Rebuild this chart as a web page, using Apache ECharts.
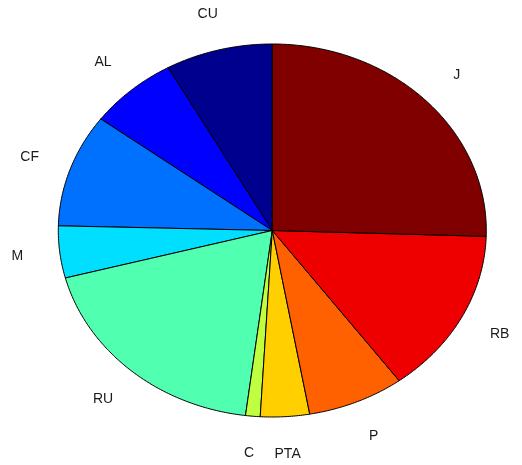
<!DOCTYPE html>
<html>
<head>
<meta charset="utf-8">
<script src="https://cdn.jsdelivr.net/npm/echarts@6/dist/echarts.min.js"></script>
<style>
html,body{margin:0;padding:0;background:#fff;}
#chart{width:522px;height:465px;}
</style>
</head>
<body>
<div id="chart"></div>
<script>
// Slices in drawing order (counter-clockwise from 12 o'clock)
var categories = ['CU', 'AL', 'CF', 'M', 'RU', 'C', 'PTA', 'P', 'RB', 'J'];
var values = [8.1, 6.7, 9.8, 4.5, 18.9, 1.1, 3.7, 7.3, 14.4, 25.5];
var colors = ['#00008F', '#0000FF', '#0070FF', '#00DFFF', '#50FFAF',
              '#BFFF40', '#FFCF00', '#FF6000', '#EF0000', '#800000'];

var total = values.reduce(function (a, b) { return a + b; }, 0);
var cum = 0;
var sliceData = values.map(function (v, i) {
  var s = cum / total;
  cum += v;
  return { value: [s, cum / total], name: categories[i] };
});

function renderItem(params, api) {
  var i = params.dataIndex;
  var a0 = 90 + api.value(0) * 360;
  var a1 = 90 + api.value(1) * 360;
  var pts = [api.coord([0, 0])];
  var n = Math.max(2, Math.ceil((a1 - a0) / 0.5));
  for (var k = 0; k <= n; k++) {
    var t = (a0 + (a1 - a0) * k / n) * Math.PI / 180;
    pts.push(api.coord([Math.cos(t), Math.sin(t)]));
  }
  var am = (a0 + a1) / 2 * Math.PI / 180;
  var lp = api.coord([1.2 * Math.cos(am), 1.2 * Math.sin(am)]);
  return {
    type: 'group',
    children: [
      {
        type: 'polygon',
        shape: { points: pts },
        style: { fill: colors[i], stroke: '#000', lineWidth: 1, lineJoin: 'round' }
      },
      {
        type: 'text',
        x: lp[0], y: lp[1],
        style: {
          text: categories[i],
          fill: '#1a1a1a',
          font: '14px "Liberation Sans", Arial, sans-serif',
          align: 'center', verticalAlign: 'middle',
          textAlign: 'center', textVerticalAlign: 'middle'
        }
      }
    ]
  };
}

var chart = echarts.init(document.getElementById('chart'), null, { renderer: 'canvas' });
chart.setOption({
  animation: false,
  backgroundColor: '#fff',
  grid: { left: 58.3, top: 44, width: 428, height: 373 },
  xAxis: { type: 'value', min: -1, max: 1, show: false },
  yAxis: { type: 'value', min: -1, max: 1, show: false },
  series: [{
    type: 'custom',
    renderItem: renderItem,
    clip: false,
    encode: { x: -1, y: -1 },
    data: sliceData
  }]
});
</script>
</body>
</html>
